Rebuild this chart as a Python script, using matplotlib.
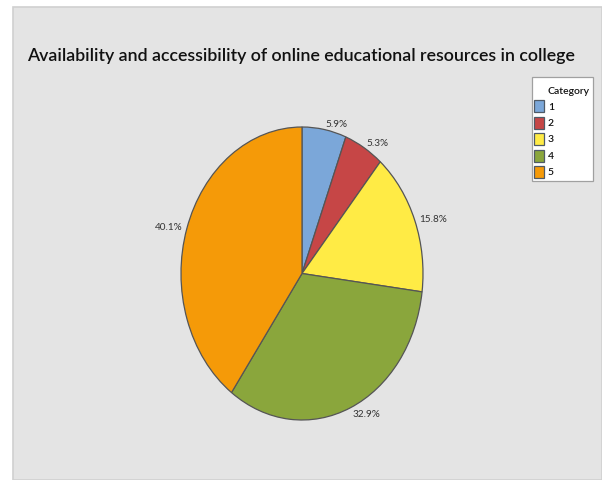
import matplotlib
matplotlib.use('Agg')
import matplotlib.pyplot as plt
from matplotlib.patches import Rectangle

# data
categories = ['1', '2', '3', '4', '5']
percent = [5.9, 5.3, 15.8, 32.9, 40.1]
colors = ['#7BA7D9', '#C64646', '#FFEB45', '#8AA63C', '#F59A08']
title = 'Availability and accessibility of online educational resources in college'

W, H = 602, 481
fig = plt.figure(figsize=(W / 100, H / 100), dpi=100)
fig.patch.set_facecolor('white')
fnt = ['Lato', 'DejaVu Sans']

def fx(px):
    return px / W

def fy(py):
    return 1 - py / H

# gray panel
panel = Rectangle((fx(13), 0), 1 - fx(13), fy(8), transform=fig.transFigure,
                  facecolor='#E4E4E4', edgecolor='#D0D0D0', linewidth=1.2, zorder=-5)
fig.patches.append(panel)

# title, shrunk to fit the width of the original
t = fig.text(fx(301), fy(61), title, ha='center', va='baseline',
             fontsize=17, family=fnt, weight='semibold', color='#111111')
r = fig.canvas.get_renderer()
w = t.get_window_extent(r).width
t.set_fontsize(17 * 548 / w)

# pie axes (elliptical, like the original)
ax = fig.add_axes([fx(181), 60 / H, 242 / W, 293 / H])
labels = ['%.1f%%' % p for p in percent]
wedges, texts = ax.pie(percent, colors=colors, startangle=90, counterclock=False,
                       labels=labels, labeldistance=1.04,
                       wedgeprops=dict(edgecolor='#555555', linewidth=0.9),
                       textprops=dict(fontsize=7.2, color='#333333', family=fnt))
ax.set_aspect('auto')
ax.set_xlim(-1, 1)
ax.set_ylim(-1, 1)
ax.axis('off')
for tx in texts:
    tx.set_clip_on(False)

# legend box
fig.patches.append(Rectangle((fx(531.5), fy(182)), fx(593) - fx(531.5), fy(78) - fy(182),
                             transform=fig.transFigure, facecolor='white',
                             edgecolor='#A0A0A0', linewidth=0.9, zorder=2))
fig.text(fx(548), fy(94), 'Category', ha='left', va='baseline', fontsize=7.5,
         family=fnt, weight='semibold', color='#111111', zorder=3)
for i, (cat, c) in enumerate(zip(categories, colors)):
    yc = 107 + i * 16.5
    fig.patches.append(Rectangle((fx(534), fy(yc + 6)), fx(544) - fx(534), 12 / H,
                                 transform=fig.transFigure, facecolor=c,
                                 edgecolor='#4F5A66', linewidth=0.9, zorder=3))
    fig.text(fx(548), fy(yc), cat, ha='left', va='center', fontsize=7.5,
             family=fnt, weight='semibold', color='#111111', zorder=3)

fig.savefig('out.png', dpi=100)
